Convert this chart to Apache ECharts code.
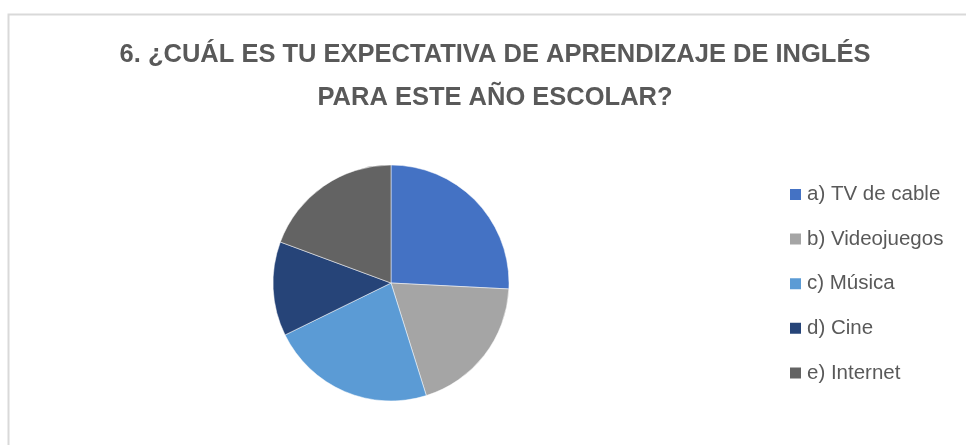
<!DOCTYPE html>
<html><head><meta charset="utf-8">
<script src="https://cdn.jsdelivr.net/npm/echarts@6/dist/echarts.min.js"></script>
<style>html,body{margin:0;padding:0;background:#fff}#c{width:966px;height:445px}</style>
</head><body><div id="c"></div>
<script>
const categories = ['a) TV de cable', 'b) Videojuegos', 'c) Música', 'd) Cine', 'e) Internet'];
const values = [8, 6, 7, 4, 6];
const colors = ['#4472C4', '#A5A5A5', '#5B9BD5', '#264478', '#636363'];
const titleText = '6. ¿CUÁL ES TU EXPECTATIVA DE APRENDIZAJE DE INGLÉS\nPARA ESTE AÑO ESCOLAR?';

const chart = echarts.init(document.getElementById('c'), null, {renderer: 'canvas'});
chart.setOption({
  animation: false,
  backgroundColor: '#fff',
  color: colors,
  graphic: [{
    type: 'rect', left: 6, top: 12,
    shape: {width: 1000, height: 500},
    style: {fill: 'none', stroke: '#d9d9d9', lineWidth: 2}
  }],
  title: {
    text: titleText,
    left: 490, textAlign: 'center', top: 28,
    textStyle: {fontFamily: 'Liberation Sans', fontWeight: 'bold', fontSize: 25.5, color: '#595959', lineHeight: 43}
  },
  legend: {
    orient: 'vertical', left: 783, top: 179,
    itemWidth: 13, itemHeight: 13, itemGap: 23.6,
    icon: 'rect',
    textStyle: {fontFamily: 'Liberation Sans', fontSize: 20.5, color: '#595959'},
    data: categories
  },
  series: [{
    type: 'pie',
    center: [391, 283], radius: 118,
    startAngle: 90, clockwise: true,
    label: {show: false}, labelLine: {show: false},
    itemStyle: {borderColor: '#fff', borderWidth: 0.5},
    emphasis: {disabled: true},
    data: categories.map((n, i) => ({name: n, value: values[i]}))
  }]
});
</script></body></html>
